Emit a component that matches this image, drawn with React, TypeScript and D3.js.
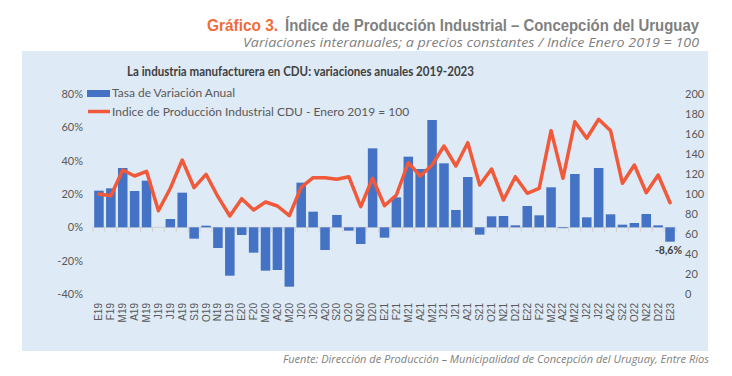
import React from "react";
import * as d3 from "d3";

const categories = ["E19","F19","M19","A19","M19","J19","J19","A19","S19","O19","N19","D19",
"E20","F20","M20","A20","M20","J20","J20","A20","S20","O20","N20","D20",
"E21","F21","M21","A21","M21","J21","J21","A21","S21","O21","N21","D21",
"E22","F22","M22","A22","M22","J22","J22","A22","S22","O22","N22","D22","E23"];

const tasaVariacion = [22,23.4,35.6,21.8,28,0,5,20.8,-6.8,1,-12.4,-29,
-4.6,-15.2,-26,-25.6,-35.6,26.8,9.4,-13.6,7.4,-2,-10,47.4,
-6.2,18,42.4,35,64.4,38.4,10.4,30.2,-4.4,6.6,6.8,1.2,
12.8,7.2,24,-0.5,32,6,35.6,7.8,1.6,2.6,8,1.2,-8.6];

const indice = [100,98.3,124,118,122.7,83.3,105.7,134,106.3,119.7,97.3,78,
95.3,84,92,88,78.3,106.7,116.3,116.3,114.7,117.3,87.3,115.7,
88.3,99,131.3,118,129,148,128,151.3,109,125,94,117.3,
100.7,105.7,163.3,115.7,172.3,155.7,174.7,163.3,110.7,129,101.3,119,91.3];

const leftTicks = [-40,-20,0,20,40,60,80];
const rightTicks = [0,20,40,60,80,100,120,140,160,180,200];

const BLUE = "#4472C4";
const ORANGE = "#F05A3A";
const TXT = "#595959";

export default function App() {
  const idx = categories.map((_, i) => i);
  const x = d3.scaleBand<number>().domain(idx).range([93, 676]).paddingInner(0.2).paddingOuter(0.1);
  const yL = d3.scaleLinear().domain([-40, 80]).range([294, 94]);
  const yR = d3.scaleLinear().domain([0, 200]).range([294, 94]);
  const cx = (i: number) => (x(i) as number) + x.bandwidth() / 2;
  const line = d3.line<number>().x((_, i) => cx(i)).y(d => yR(d));
  const y0 = yL(0);
  const lastI = categories.length - 1;
  const n = categories.length;

  return (
    <svg width={732} height={376} style={{ position: "absolute", left: 0, top: 0, background: "#fff" }}
      fontFamily="Lato, 'Open Sans', sans-serif">
      {/* Header */}
      <text x={207} y={31} textAnchor="start" fontSize={16} fontWeight="bold" fill="#F26B3A"
        fontFamily="'Liberation Sans Narrow', 'Liberation Sans', Arial, sans-serif"
        textLength={71} lengthAdjust="spacingAndGlyphs">Gráfico 3.</text>
      <text x={285} y={31} textAnchor="start" fontSize={16} fontWeight="bold" fill="#7F7F7F"
        fontFamily="'Liberation Sans Narrow', 'Liberation Sans', Arial, sans-serif"
        textLength={414} lengthAdjust="spacingAndGlyphs">Índice de Producción Industrial – Concepción del Uruguay</text>
      <text x={699} y={47} textAnchor="end" fontSize={12.5} fontStyle="italic" fill="#7F7F7F"
        fontFamily="'Open Sans', sans-serif" textLength={456} lengthAdjust="spacingAndGlyphs">
        Variaciones interanuales; a precios constantes / Indice Enero 2019 = 100
      </text>

      {/* Panel */}
      <rect x={22} y={51} width={686} height={300} fill="#DEEAF6" />

      <text x={300.5} y={76} textAnchor="middle" fontSize={14} fontWeight="bold" fill="#404040"
        textLength={347} lengthAdjust="spacingAndGlyphs">
        La industria manufacturera en CDU: variaciones anuales 2019-2023
      </text>

      {/* Left axis labels */}
      {leftTicks.map(t => (
        <text key={"l" + t} x={83} y={yL(t)} dy="0.35em" textAnchor="end" fontSize={11} fill={TXT}>
          {t + "%"}
        </text>
      ))}
      {/* Right axis labels */}
      {rightTicks.map(t => (
        <text key={"r" + t} x={685} y={yR(t)} dy="0.35em" textAnchor="start" fontSize={11} fill={TXT}>
          {t}
        </text>
      ))}

      {/* Zero axis line and ticks */}
      <line x1={93} x2={676} y1={y0} y2={y0} stroke="#D0D0D0" strokeWidth={1} />
      {d3.range(n + 1).map(i => (
        <line key={"t" + i} x1={93 + i * (583 / n)} x2={93 + i * (583 / n)}
          y1={y0} y2={y0 + 5} stroke="#D0D0D0" strokeWidth={1} />
      ))}

      {/* Bars */}
      {tasaVariacion.map((v, i) => (
        <rect key={"b" + i} x={x(i)} width={x.bandwidth()}
          y={Math.min(yL(v), y0)} height={Math.max(Math.abs(yL(v) - y0), 0.01)} fill={BLUE} />
      ))}

      {/* Line */}
      <path d={line(indice) || ""} fill="none" stroke={ORANGE} strokeWidth={3.5} strokeLinejoin="round" strokeLinecap="round" />

      {/* Data label */}
      <text x={cx(lastI) + 12} y={yL(tasaVariacion[lastI]) + 12} textAnchor="end" fontSize={10.5}
        fontWeight="bold" fill="#404040">-8,6%</text>

      {/* X labels */}
      {categories.map((c, i) => (
        <text key={"x" + i} transform={`translate(${cx(i)},${303}) rotate(-90)`} textAnchor="end" dy="0.35em"
          fontSize={10} fill={TXT} fontFamily="'Liberation Sans', Arial, sans-serif">
          {c}
        </text>
      ))}

      {/* Legend */}
      <rect x={87} y={90} width={23} height={7} fill={BLUE} />
      <text x={112} y={97} fontSize={12} fill={TXT}>Tasa de Variación Anual</text>
      <line x1={88} x2={110} y1={111.5} y2={111.5} stroke={ORANGE} strokeWidth={3.5} />
      <text x={112} y={116} fontSize={12} fill={TXT}>Indice de Producción Industrial CDU - Enero 2019 = 100</text>

      {/* Footnote */}
      <text x={709} y={363} textAnchor="end" fontSize={11} fontStyle="italic" fill="#7F7F7F"
        fontFamily="'Open Sans', sans-serif" textLength={426} lengthAdjust="spacingAndGlyphs">
        Fuente: Dirección de Producción – Municipalidad de Concepción del Uruguay, Entre Ríos
      </text>
    </svg>
  );
}
